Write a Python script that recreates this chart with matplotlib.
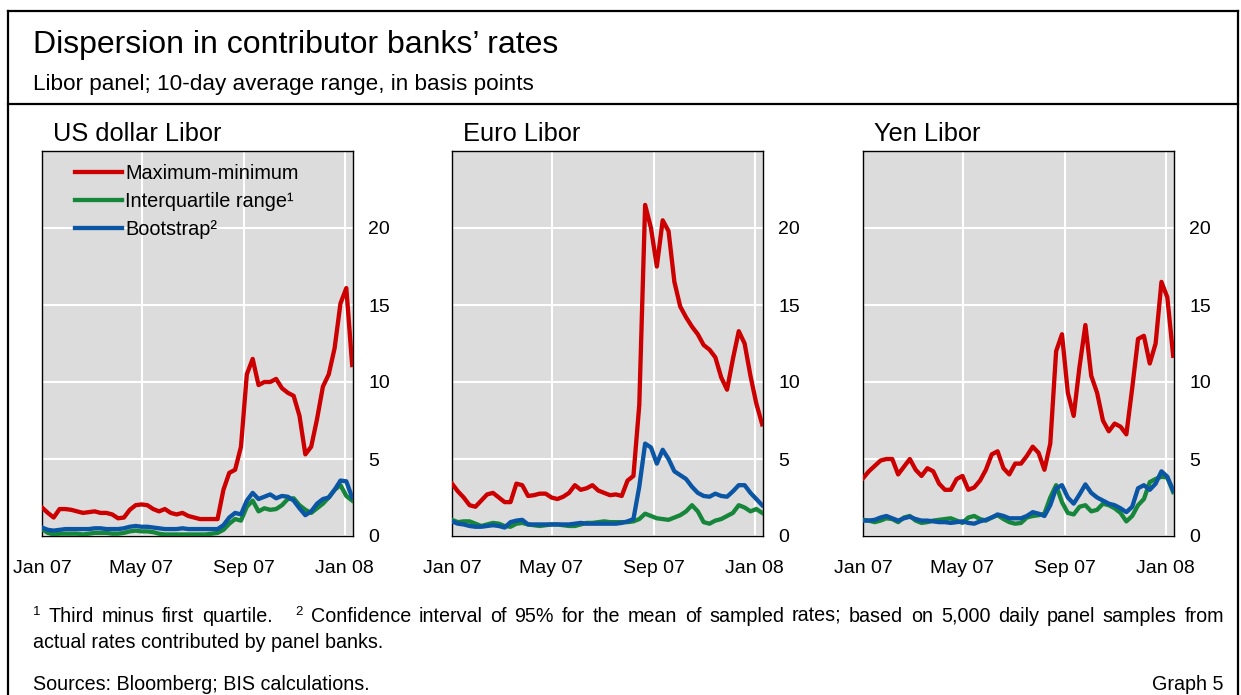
import numpy as np
import pandas as pd
import matplotlib
matplotlib.use("Agg")
import matplotlib.pyplot as plt
import matplotlib.dates as mdates
from matplotlib.lines import Line2D

plt.rcParams['font.family'] = ['Liberation Sans', 'DejaVu Sans']

# weekly observation dates, Jan 2007 to mid Jan 2008
dates = pd.date_range('2007-01-01', '2008-01-10', periods=54)

usd_maxmin = [1.85, 1.5, 1.2, 1.75, 1.75, 1.7, 1.6, 1.5, 1.55, 1.6,
              1.5, 1.5, 1.4, 1.15, 1.2, 1.7, 2.0, 2.05, 2.0, 1.75,
              1.6, 1.75, 1.5, 1.4, 1.5, 1.3, 1.2, 1.1, 1.1, 1.1,
              1.1, 3.0, 4.1, 4.3, 5.8, 10.5, 11.5, 9.8, 10.0, 10.0,
              10.2, 9.6, 9.3, 9.1, 7.8, 5.3, 5.8, 7.6, 9.7, 10.5,
              12.2, 15.1, 16.1, 11.1]
usd_iqr = [0.45, 0.2, 0.1, 0.15, 0.15, 0.15, 0.15, 0.1, 0.15, 0.2,
           0.2, 0.2, 0.15, 0.15, 0.2, 0.3, 0.35, 0.3, 0.3, 0.25,
           0.15, 0.1, 0.1, 0.1, 0.1, 0.1, 0.1, 0.1, 0.1, 0.15,
           0.2, 0.4, 0.8, 1.1, 1.0, 1.9, 2.3, 1.6, 1.8, 1.7,
           1.75, 2.0, 2.4, 2.45, 2.0, 1.7, 1.5, 1.8, 2.1, 2.5,
           3.0, 3.3, 2.6, 2.3]
usd_boot = [0.55, 0.4, 0.35, 0.4, 0.45, 0.45, 0.45, 0.45, 0.45, 0.5,
            0.5, 0.45, 0.45, 0.45, 0.5, 0.6, 0.65, 0.6, 0.6, 0.55,
            0.5, 0.45, 0.45, 0.45, 0.5, 0.45, 0.45, 0.45, 0.45, 0.45,
            0.45, 0.7, 1.2, 1.5, 1.4, 2.3, 2.8, 2.4, 2.55, 2.7,
            2.45, 2.6, 2.55, 2.3, 1.8, 1.35, 1.6, 2.1, 2.4, 2.5,
            3.0, 3.6, 3.55, 2.5]

eur_maxmin = [3.4, 2.9, 2.5, 2.0, 1.9, 2.3, 2.7, 2.8, 2.5, 2.2,
              2.2, 3.4, 3.3, 2.6, 2.65, 2.75, 2.75, 2.5, 2.4, 2.55,
              2.8, 3.3, 3.0, 3.1, 3.3, 2.95, 2.8, 2.65, 2.7, 2.6,
              3.6, 3.9, 8.5, 21.5, 20.0, 17.5, 20.5, 19.8, 16.5, 14.9,
              14.2, 13.6, 13.1, 12.4, 12.1, 11.6, 10.3, 9.5, 11.5, 13.3,
              12.5, 10.4, 8.6, 7.25]
eur_iqr = [1.05, 0.9, 0.95, 0.95, 0.8, 0.65, 0.75, 0.85, 0.8, 0.65,
           0.6, 0.8, 0.85, 0.75, 0.7, 0.65, 0.7, 0.75, 0.75, 0.7,
           0.65, 0.65, 0.75, 0.85, 0.85, 0.9, 0.95, 0.9, 0.9, 0.9,
           0.9, 0.95, 1.1, 1.45, 1.3, 1.15, 1.1, 1.05, 1.2, 1.35,
           1.6, 2.0, 1.6, 0.9, 0.8, 1.0, 1.1, 1.3, 1.5, 2.0,
           1.85, 1.6, 1.75, 1.5]
eur_boot = [0.95, 0.8, 0.75, 0.65, 0.6, 0.6, 0.65, 0.7, 0.65, 0.55,
            0.9, 1.0, 1.05, 0.75, 0.75, 0.75, 0.75, 0.75, 0.75, 0.75,
            0.75, 0.8, 0.85, 0.8, 0.8, 0.8, 0.8, 0.8, 0.8, 0.85,
            0.95, 1.1, 3.2, 6.0, 5.75, 4.7, 5.6, 5.0, 4.2, 3.95,
            3.7, 3.2, 2.8, 2.6, 2.55, 2.75, 2.6, 2.55, 2.9, 3.3,
            3.3, 2.8, 2.4, 2.0]

jpy_maxmin = [3.75, 4.2, 4.55, 4.9, 5.0, 5.0, 4.0, 4.5, 5.0, 4.3,
              3.9, 4.4, 4.2, 3.4, 3.0, 3.0, 3.7, 3.9, 3.0, 3.15,
              3.6, 4.3, 5.3, 5.5, 4.4, 4.0, 4.7, 4.7, 5.2, 5.8,
              5.4, 4.3, 6.0, 12.0, 13.1, 9.3, 7.8, 11.0, 13.7, 10.4,
              9.3, 7.5, 6.8, 7.3, 7.1, 6.6, 9.6, 12.8, 13.0, 11.2,
              12.5, 16.5, 15.5, 11.7]
jpy_iqr = [1.05, 1.0, 0.9, 1.0, 1.15, 1.1, 0.9, 1.2, 1.3, 1.0,
           0.85, 0.9, 1.0, 1.05, 1.1, 1.15, 1.0, 0.85, 1.2, 1.3,
           1.1, 1.0, 1.2, 1.35, 1.1, 0.9, 0.8, 0.85, 1.2, 1.3,
           1.35, 1.45, 2.5, 3.3, 2.2, 1.5, 1.4, 1.9, 2.0, 1.6,
           1.7, 2.1, 2.0, 1.8, 1.5, 0.95, 1.3, 2.0, 2.4, 3.5,
           3.7, 3.85, 3.8, 2.85]
jpy_boot = [1.0, 1.0, 1.05, 1.2, 1.3, 1.15, 1.0, 1.15, 1.25, 1.1,
            1.0, 1.0, 0.95, 0.9, 0.9, 0.85, 0.9, 0.95, 0.85, 0.8,
            0.95, 1.05, 1.2, 1.4, 1.3, 1.15, 1.15, 1.15, 1.3, 1.55,
            1.45, 1.3, 2.0, 3.1, 3.3, 2.5, 2.1, 2.7, 3.35, 2.8,
            2.5, 2.3, 2.1, 2.0, 1.8, 1.55, 1.9, 3.1, 3.3, 3.0,
            3.4, 4.2, 3.85, 2.95]

panel_titles = ['US dollar Libor', 'Euro Libor', 'Yen Libor']
series_labels = ['Maximum-minimum', 'Interquartile range\u00b9', 'Bootstrap\u00b2']
panels = [(usd_maxmin, usd_iqr, usd_boot),
          (eur_maxmin, eur_iqr, eur_boot),
          (jpy_maxmin, jpy_iqr, jpy_boot)]
tick_dates = pd.to_datetime(['2007-01-01', '2007-05-01', '2007-09-01', '2008-01-01'])
tick_labels = ['Jan 07', 'May 07', 'Sep 07', 'Jan 08']

note1 = 'Third minus first quartile.'
note2 = ('Confidence interval of 95% for the mean of sampled rates; based on 5,000 daily '
         'panel samples from')
note2_cont = 'actual rates contributed by panel banks.'
source = 'Sources: Bloomberg; BIS calculations.'

red = '#cc0000'
green = '#16863a'
blue = '#0b55a5'

W, H = 1241, 695
fig = plt.figure(figsize=(W / 100, H / 100), dpi=100)

# frame
fig.add_artist(Line2D([8 / W, 8 / W], [0, 1 - 11 / H], color='black', lw=1.6))
fig.add_artist(Line2D([1238 / W, 1238 / W], [0, 1 - 11 / H], color='black', lw=1.6))
fig.add_artist(Line2D([8 / W, 1238 / W], [1 - 11 / H, 1 - 11 / H], color='black', lw=1.6))
fig.add_artist(Line2D([8 / W, 1238 / W], [1 - 104 / H, 1 - 104 / H], color='black', lw=1.6))

fig.text(33 / W, 1 - 53 / H, 'Dispersion in contributor banks\u2019 rates', fontsize=23,
         va='baseline', ha='left')
fig.text(33 / W, 1 - 90 / H, 'Libor panel; 10-day average range, in basis points', fontsize=16.2,
         va='baseline', ha='left')

lefts = [42, 452, 863]
for i, (mm, iqr, boot) in enumerate(panels):
    ax = fig.add_axes([lefts[i] / W, (H - 536) / H, 311 / W, 385 / H])
    ax.set_facecolor('#dcdcdc')
    ax.plot(dates, mm, color=red, lw=3.1, label=series_labels[0], zorder=4)
    ax.plot(dates, iqr, color=green, lw=3.1, label=series_labels[1], zorder=3)
    ax.plot(dates, boot, color=blue, lw=3.1, label=series_labels[2], zorder=3.5)
    ax.set_xlim(pd.Timestamp('2007-01-01'), pd.Timestamp('2008-01-11'))
    ax.set_ylim(0, 25)
    ax.set_yticks([0, 5, 10, 15, 20])
    ax.set_xticks(tick_dates)
    ax.set_xticklabels(tick_labels)
    ax.yaxis.tick_right()
    ax.tick_params(axis='y', length=0, pad=11, labelsize=14)
    ax.tick_params(axis='x', length=0, pad=17, labelsize=14)
    ax.grid(True, color='white', lw=1.5)
    ax.set_axisbelow(True)
    for s in ax.spines.values():
        s.set_linewidth(1.0)
        s.set_color('black')
    ax.text(0.035, 1.026, panel_titles[i], transform=ax.transAxes, fontsize=18.3,
            va='baseline', ha='left')
    if i == 0:
        ax.legend(loc='upper left', bbox_to_anchor=(0.064, 1.0), frameon=False, fontsize=14.3,
                  handlelength=2.4, handletextpad=0.15, labelspacing=0.45, borderaxespad=0.25)

# footnotes: first line justified between x=33 and x=1224
fs = 14.2
renderer = fig.canvas.get_renderer()
pieces = [('1', True)] + [(w, False) for w in note1.split()] + [('2', True)] + \
         [(w, False) for w in note2.split()]
y1 = 1 - 622 / H
texts = []
for w, sup in pieces:
    if sup:
        t = fig.text(0, y1 + 7 / H, w, fontsize=9.5, va='baseline', ha='left')
    else:
        t = fig.text(0, y1, w, fontsize=fs, va='baseline', ha='left')
    texts.append((t, sup))
widths = [t.get_window_extent(renderer).width for t, _ in texts]
# gaps: small after superscripts, wide before the second superscript
gap_weights = []
for k in range(len(texts) - 1):
    if texts[k][1]:
        gap_weights.append(1.0)
    elif texts[k + 1][1]:
        gap_weights.append(3.0)
    else:
        gap_weights.append(1.0)
free = (1224 - 33) - sum(widths)
unit = free / sum(gap_weights)
x = 33.0
for k, (t, sup) in enumerate(texts):
    t.set_x(x / W)
    x += widths[k]
    if k < len(gap_weights):
        x += unit * gap_weights[k]

fig.text(33 / W, 1 - 648 / H, note2_cont, fontsize=fs, va='baseline', ha='left')
fig.text(33 / W, 1 - 690 / H, source, fontsize=fs, va='baseline', ha='left')
fig.text(1224 / W, 1 - 690 / H, 'Graph 5', fontsize=fs, va='baseline', ha='right')

fig.savefig('out.png', dpi=100)
